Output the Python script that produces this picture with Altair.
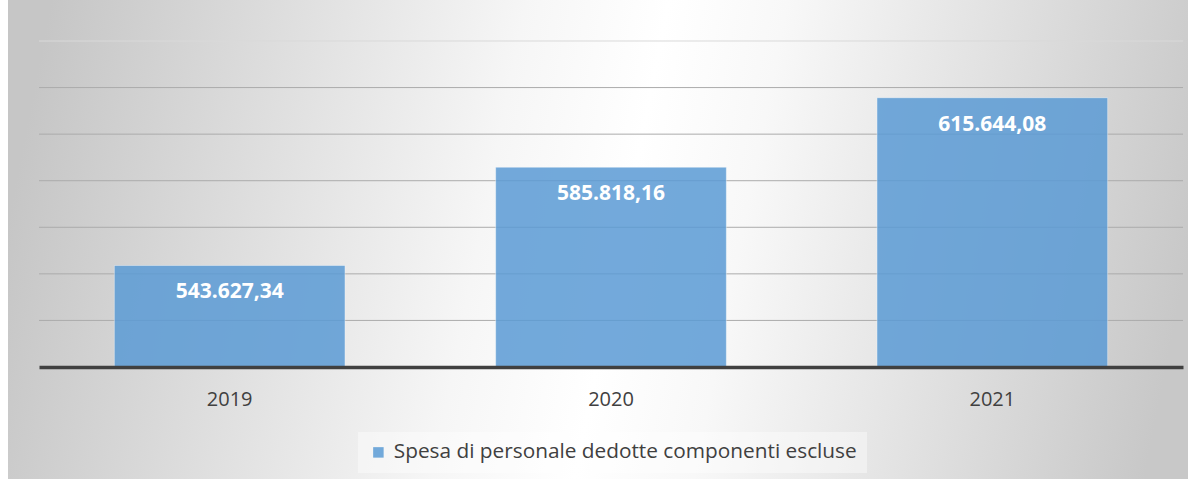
import altair as alt
import pandas as pd

# ---- data ----
years = ["2019", "2020", "2021"]
values = [543627.34, 585818.16, 615644.08]
value_labels = ["543.627,34", "585.818,16", "615.644,08"]
series_name = "Spesa di personale dedotte componenti escluse"
grid_values = [520000, 540000, 560000, 580000, 600000, 620000, 640000]
y_domain = [500000, 640000]

df = pd.DataFrame({
    "anno": years,
    "valore": values,
    "etichetta": value_labels,
    "serie": [series_name] * len(years),
})
grid_df = pd.DataFrame({"v": grid_values})
bg_df = pd.DataFrame({"k": [0]})

FONT = "Open Sans"
TEXT_COLOR = "#404040"
BAR_COLOR = "#5b9bd5"

yscale = alt.Scale(domain=y_domain, nice=False, zero=False)
xscale = alt.Scale(paddingInner=0.395, paddingOuter=0.1975)

gradient = alt.LinearGradient(
    gradient="linear",
    x1=0, y1=0.46, x2=1, y2=0.54,
    stops=[
        alt.GradientStop(color="#c6c6c6", offset=0),
        alt.GradientStop(color="#f6f6f6", offset=0.40),
        alt.GradientStop(color="#ffffff", offset=0.52),
        alt.GradientStop(color="#f8f8f8", offset=0.62),
        alt.GradientStop(color="#c8c8c8", offset=1),
    ],
)

bg = alt.Chart(bg_df).mark_rect(color=gradient).encode(
    x=alt.value(-31), x2=alt.value(1149), y=alt.value(-41), y2=alt.value(438)
)

grid = alt.Chart(grid_df).mark_rule(strokeWidth=1).encode(
    y=alt.Y("v:Q", scale=yscale, axis=None),
    color=alt.condition(alt.datum.v >= 640000, alt.value("#d9d9d9"), alt.value("#ababab")),
)

bars = alt.Chart(df).mark_bar(
    opacity=0.85, stroke="#ffffff", strokeOpacity=0.45, strokeWidth=1
).encode(
    x=alt.X(
        "anno:N",
        scale=xscale,
        axis=alt.Axis(
            title=None, labelAngle=0, ticks=False, grid=False,
            domainColor=TEXT_COLOR, domainWidth=3.5,
            labelFont=FONT, labelFontSize=20, labelColor=TEXT_COLOR,
            labelPadding=22, zindex=1,
        ),
    ),
    y=alt.Y("valore:Q", scale=yscale, axis=None),
    y2=alt.datum(y_domain[0]),
    color=alt.Color(
        "serie:N",
        scale=alt.Scale(domain=[series_name], range=[BAR_COLOR]),
        legend=alt.Legend(
            title=None, orient="none", legendX=319, legendY=391,
            symbolType="square", symbolSize=110, symbolStrokeWidth=0,
            symbolOpacity=0.85,
            labelFont=FONT, labelFontSize=20.8, labelColor=TEXT_COLOR,
            labelOffset=5, labelLimit=0, padding=10,
            fillColor="rgba(255,255,255,0.4)",
        ),
    ),
)

labels = alt.Chart(df).mark_text(
    font=FONT, fontWeight="bold", fontSize=21, color="white",
    baseline="middle", dy=27,
).encode(
    x=alt.X("anno:N", scale=xscale),
    y=alt.Y("valore:Q", scale=yscale, axis=None),
    text="etichetta:N",
)

chart = alt.layer(bg, grid, bars, labels).properties(
    width=1144,
    height=326,
    autosize=alt.AutoSizeParams(type="none"),
    padding={"left": 39, "top": 41, "right": 12, "bottom": 112},
    background="white",
).configure_view(stroke=None)

chart.save("out.html", embed_options={"renderer": "svg", "actions": False})
